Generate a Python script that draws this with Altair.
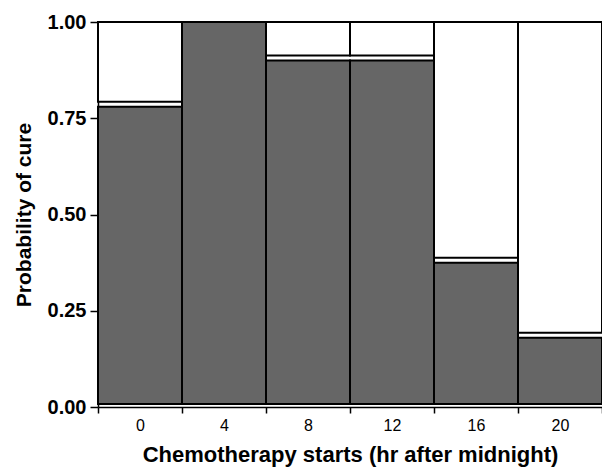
import altair as alt
import pandas as pd

hours = ["0", "4", "8", "12", "16", "20"]
cure = [0.78, 1.00, 0.90, 0.90, 0.375, 0.18]

df = pd.DataFrame({"hour": hours, "cure": cure})
df["zero"] = 0.0
df["one"] = 1.0

FONT = "Liberation Sans"

x = alt.X("hour:N", sort=hours,
          scale=alt.Scale(paddingInner=0, paddingOuter=0),
          axis=alt.Axis(title="Chemotherapy starts (hr after midnight)", labelAngle=0,
                        tickBand="extent", tickSize=6, tickColor="black", domainColor="black",
                        tickWidth=1.5, domainWidth=1.5,
                        labelFont=FONT, labelFontSize=16, labelColor="black", labelPadding=4,
                        titleFont=FONT, titleFontSize=22, titleFontWeight="bold", titleColor="black",
                        titlePadding=11))

yscale = alt.Scale(domain=[0, 1], nice=False)
yaxis = alt.Axis(title="Probability of cure", values=[0, 0.25, 0.5, 0.75, 1.0], format=".2f",
                 grid=False, tickSize=8, tickColor="black", domainColor="black",
                 tickWidth=1.5, domainWidth=1.5,
                 labelFont=FONT, labelFontSize=20, labelFontWeight="bold", labelColor="black",
                 labelPadding=4,
                 titleFont=FONT, titleFontSize=21, titleFontWeight="bold", titleColor="black",
                 titlePadding=13)

dark = alt.Chart(df).mark_bar(fill="#666666", stroke="black", strokeWidth=2, y2Offset=-3).encode(
    x=x,
    y=alt.Y("cure:Q", scale=yscale, axis=yaxis),
    y2="zero:Q",
)

white = alt.Chart(df).transform_filter("datum.cure < 1").mark_bar(
    fill="white", stroke="black", strokeWidth=2, y2Offset=-5).encode(
    x=x,
    y=alt.Y("one:Q", scale=yscale, axis=yaxis),
    y2="cure:Q",
)

chart = alt.layer(white, dark).properties(
    width=504, height=385,
    autosize=alt.AutoSizeParams(type="none"),
    padding={"left": 90, "top": 14, "right": 0, "bottom": 62},
).configure_view(stroke=None).configure(background="white")

chart.save("out.html", embed_options={"renderer": "svg", "actions": False})
